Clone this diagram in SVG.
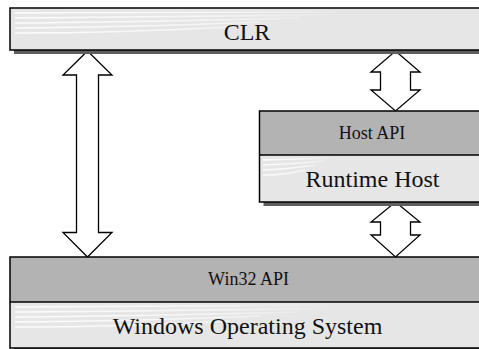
<svg xmlns="http://www.w3.org/2000/svg" width="479" height="349" viewBox="0 0 479 349">
<style>
.shadow{fill:#5e5e5e}
.light{fill:#e6e6e6;stroke:none}
.api{fill:#b3b3b3;stroke:none}
.frame{fill:none;stroke:#000;stroke-width:1.5}
.div{stroke:#000;stroke-width:1.5}
.arrow{fill:#fff;stroke:#000;stroke-width:1.3;stroke-linejoin:miter}
.big{font-family:"Liberation Serif","Times New Roman",serif;font-size:24px;fill:#111;text-anchor:middle}
.small{font-family:"Liberation Serif","Times New Roman",serif;font-size:18px;fill:#111;text-anchor:middle}
.swirl{fill:none;stroke:url(#fade);stroke-width:1.6}
</style>
<defs>
<linearGradient id="fade" x1="0" y1="0" x2="1" y2="0">
<stop offset="0" stop-color="#fff" stop-opacity="0.9"/>
<stop offset="0.6" stop-color="#fff" stop-opacity="0.6"/>
<stop offset="1" stop-color="#fff" stop-opacity="0"/>
</linearGradient>
</defs>
<g id="connectors">
<polygon class="arrow" points="87.5,51 112,75 98.5,75 98.5,232.5 112,232.5 87.5,257 63,232.5 76.5,232.5 76.5,75 63,75"/>
<polygon class="arrow" points="395.5,51 420,72 410.5,72 410.5,90 420,90 395.5,111 371,90 380.5,90 380.5,72 371,72"/>
<polygon class="arrow" points="395.5,202 420,222 410.5,222 410.5,235 420,235 395.5,257 371,235 380.5,235 380.5,222 371,222"/>
</g>
<g id="clr">
<rect class="shadow" x="14" y="12" width="474" height="42"/>
<rect class="light" x="10" y="8" width="474" height="42"/>
<path class="swirl" d="M15,13 Q180,12 345,12 M15,18 Q170,17 330,15 M15,23 Q150,22 300,18 M15,28 Q140,27 260,22 M15,33 Q120,33 230,27"/>
<rect class="frame" x="10" y="8" width="474" height="42"/>
<text class="big" x="247" y="40">CLR</text>
</g>
<g id="runtime-host">
<rect class="shadow" x="263.5" y="115" width="225" height="91"/>
<rect class="api" x="259.5" y="111" width="225" height="44"/>
<rect class="light" x="259.5" y="155" width="225" height="47"/>
<path class="swirl" d="M263,160 Q300,159 335,158 M263,165 Q295,164 325,161 M263,170 Q290,169 315,165 M263,175 Q285,175 305,170"/>
<line class="div" x1="259.5" y1="155" x2="484.5" y2="155"/>
<rect class="frame" x="259.5" y="111" width="225" height="91"/>
<text class="small" x="372" y="139">Host API</text>
<text class="big" x="372.5" y="187">Runtime Host</text>
</g>
<g id="windows-os">
<rect class="shadow" x="14" y="261" width="474" height="91"/>
<rect class="api" x="10" y="257" width="474" height="45"/>
<rect class="light" x="10" y="302" width="474" height="46"/>
<path class="swirl" d="M15,307 Q180,306 345,305 M15,312 Q170,311 330,308 M15,317 Q150,316 300,312 M15,322 Q140,321 260,316 M15,327 Q120,327 230,321"/>
<line class="div" x1="10" y1="302" x2="484" y2="302"/>
<rect class="frame" x="10" y="257" width="474" height="91"/>
<text class="small" x="248.5" y="285">Win32 API</text>
<text class="big" x="247.5" y="334">Windows Operating System</text>
</g>
</svg>
